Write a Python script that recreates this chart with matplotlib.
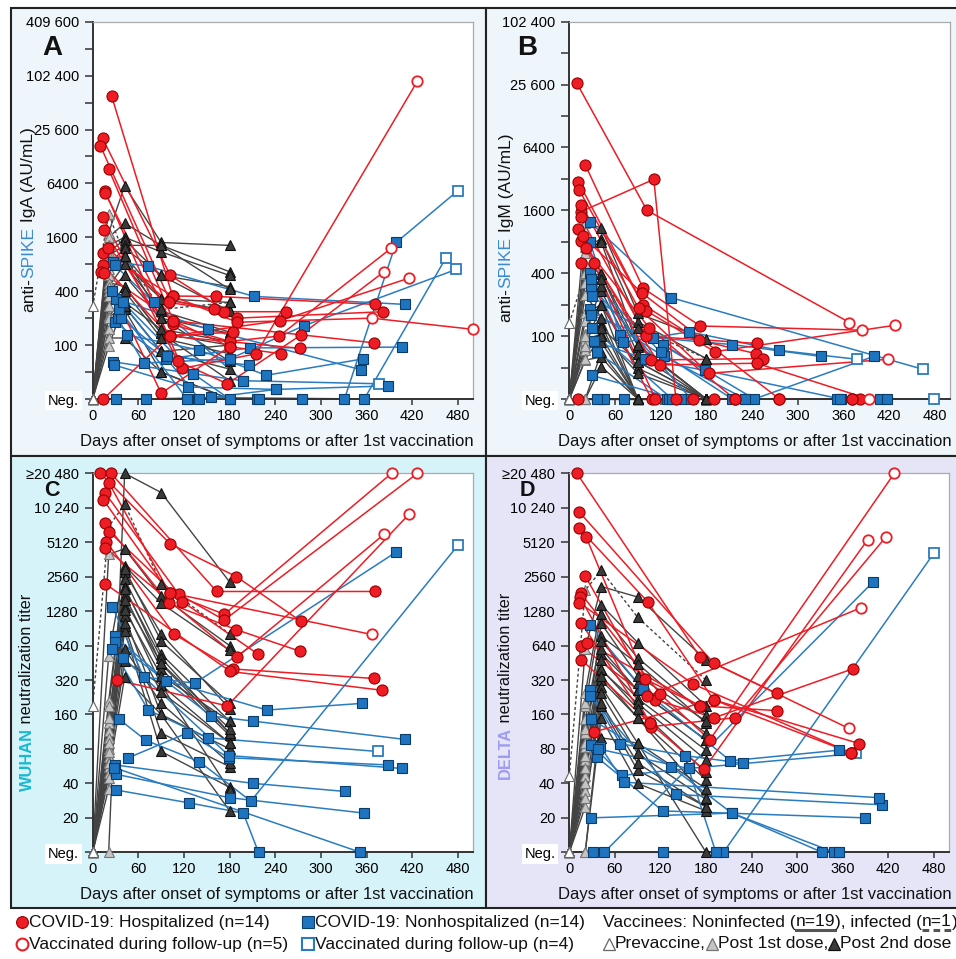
import matplotlib
matplotlib.use('Agg')
import matplotlib.pyplot as plt
from matplotlib.lines import Line2D
from matplotlib.patches import Rectangle

# ---------------- DATA ----------------
VAX_DAYS = [0, 21, 42, 90, 180]
X_TICKS = [0, 60, 120, 180, 240, 300, 360, 420, 480]

# value 0 means "Neg."
IGA_HOSP = [
    [(25, 60000), (105, 353), (162, 350), (371, 285)],
    [(13, 20400), (102, 600), (190, 200), (382, 236)],
    [(10, 16900), (101, 320), (172, 236), (254, 236)],
    [(21, 9250), (106, 187), (180, 96), (248, 80)],
    [(16, 5300), (118, 55), (215, 80), (427, 89000)],
    [(16, 5050), (105, 170), (180, 110), (245, 126), (392, 1200)],
    [(13, 2700), (112, 66), (177, 37), (274, 130), (383, 660)],
    [(15, 1930), (101, 126), (246, 187), (416, 560)],
    [(14, 1060), (105, 353), (190, 180), (367, 200), (500, 150)],
    [(13, 785), (101, 126), (273, 92)],
    [(11, 660), (106, 187), (370, 106)],
    [(15, 640), (90, 29), (180, 96)],
    [(14, 0), (101, 126), (185, 140)],
    [(20, 1200), (100, 300), (160, 250)],
]
IGA_HOSP_OPEN = [0, 0, 0, 0, 1, 1, 1, 1, 2, 0, 0, 0, 0, 0]
IGA_NONHOSP = [
    [(27, 855), (73, 760), (212, 350), (410, 285)],
    [(29, 180), (96, 70), (207, 93), (407, 95)],
    [(45, 130), (140, 88), (228, 46), (355, 70)],
    [(27, 65), (132, 48), (197, 40), (376, 37)],
    [(28, 60), (125, 34), (241, 32), (388, 35)],
    [(30, 0), (125, 0), (216, 0), (331, 0), (399, 1400), (480, 5300)],
    [(70, 0), (156, 26), (357, 0), (464, 930)],
    [(33, 200), (67, 63), (180, 70), (278, 165), (478, 700)],
    [(30, 330), (152, 150), (353, 53)],
    [(37, 200), (98, 75), (205, 60)],
    [(35, 250), (124, 0), (218, 0), (275, 0)],
    [(40, 300), (132, 48), (180, 0)],
    [(29, 780), (80, 300), (197, 40)],
    [(26, 400), (140, 0), (241, 32)],
]
IGA_NONHOSP_OPEN = [0, 0, 0, 1, 0, 1, 1, 1, 0, 0, 0, 0, 0, 0]
IGA_VAX = [
    [0, 1800, 6000, 1400, 1300],
    [0, 1600, 2300, 1300, 660],
    [0, 1300, 1600, 1100, 600],
    [0, 1100, 1500, 600, 450],
    [0, 1000, 1300, 1300, 420],
    [0, 900, 1000, 330, 300],
    [0, 800, 1200, 600, 240],
    [0, 700, 800, 240, 140],
    [0, 600, 1000, 200, 135],
    [0, 500, 450, 135, 100],
    [0, 450, 800, 330, 240],
    [0, 400, 600, 200, 66],
    [0, 350, 270, 85, 54],
    [0, 270, 450, 135, 40],
    [0, 210, 250, 50, 0],
    [0, 150, 270, 85, 100],
    [0, 120, 120, 50, 0],
    [0, 97, 300, 150, 110],
    [0, 200, 400, 120, 80],
    [270, 2900, 1000, 250, 300],
]
IGA_VAX_INFECTED = 19

IGM_HOSP = [
    [(10, 26300), (102, 1600), (368, 135)],
    [(15, 1550), (111, 3170), (140, 0), (382, 0)],
    [(21, 4350), (97, 287), (172, 125), (384, 114)],
    [(12, 3000), (97, 200), (171, 91), (245, 68)],
    [(13, 2500), (101, 175), (191, 71), (428, 127)],
    [(16, 1800), (91, 185), (183, 44), (418, 60)],
    [(15, 1370), (101, 100), (247, 85)],
    [(11, 1050), (107, 59), (255, 61)],
    [(15, 820), (119, 53), (246, 55), (393, 0)],
    [(16, 505), (108, 0), (163, 0), (371, 0)],
    [(32, 500), (113, 0), (190, 0)],
    [(12, 0), (217, 0), (276, 0)],
    [(22, 700), (105, 120), (217, 0)],
    [(18, 900), (95, 260), (276, 0), (371, 0)],
]
IGM_HOSP_OPEN = [1, 0, 1, 0, 1, 1, 0, 0, 1, 0, 0, 0, 0, 0]
IGM_NONHOSP = [
    [(27, 1240), (134, 233), (465, 48)],
    [(27, 800), (67, 103), (214, 83), (330, 64)],
    [(27, 400), (70, 87), (157, 110), (276, 73), (378, 60)],
    [(30, 240), (123, 82), (178, 47), (357, 0)],
    [(27, 180), (124, 64), (231, 0), (352, 0)],
    [(28, 160), (110, 95), (243, 0), (400, 64)],
    [(36, 70), (128, 0), (479, 0)],
    [(30, 42), (140, 0), (408, 0)],
    [(45, 0), (72, 0), (147, 0), (417, 0)],
    [(37, 0), (131, 0), (231, 0)],
    [(29, 300), (160, 0)],
    [(30, 120), (135, 0), (355, 0)],
    [(33, 90), (100, 60), (178, 47)],
    [(28, 350), (120, 70), (214, 0)],
]
IGM_NONHOSP_OPEN = [1, 0, 1, 0, 0, 0, 1, 0, 0, 0, 0, 0, 0, 0]
IGM_VAX = [
    [0, 1200, 1090, 165, 93],
    [0, 720, 850, 137, 61],
    [0, 620, 800, 79, 0],
    [0, 390, 390, 67, 0],
    [0, 320, 270, 57, 0],
    [0, 165, 200, 49, 0],
    [0, 105, 128, 0, 0],
    [0, 92, 105, 44, 0],
    [0, 73, 88, 0, 0],
    [0, 59, 63, 0, 0],
    [0, 0, 51, 0, 0],
    [0, 0, 0, 0, 0],
    [0, 100, 300, 82, 0],
    [0, 80, 200, 0, 0],
    [0, 500, 390, 82, 0],
    [0, 250, 150, 0, 0],
    [0, 60, 100, 0, 0],
    [0, 0, 70, 0, 0],
    [0, 140, 120, 57, 0],
    [133, 400, 350, 120, 61],
]
IGM_VAX_INFECTED = 19

WUHAN_HOSP = [
    [(10, 20480), (102, 4940), (189, 2560), (274, 1040)],
    [(24, 20480), (163, 1900), (371, 1900)],
    [(21, 17000), (101, 1850), (173, 1200), (393, 20480)],
    [(16, 13900), (113, 1800), (173, 1070), (427, 20480)],
    [(16, 7560), (100, 1500), (189, 880), (273, 570)],
    [(22, 6300), (118, 1550), (217, 540)],
    [(18, 5150), (107, 805), (184, 400), (370, 330)],
    [(16, 4580), (190, 510), (383, 6000)],
    [(16, 2230), (181, 380), (381, 260)],
    [(32, 320), (177, 190), (416, 9000)],
    [(14, 12000), (101, 1850), (367, 800)],
]
WUHAN_HOSP_OPEN = [0, 0, 1, 1, 0, 0, 0, 1, 0, 1, 1]
WUHAN_NONHOSP = [
    [(26, 1400), (67, 340), (134, 300), (399, 4200)],
    [(29, 770), (97, 315), (229, 175), (354, 200)],
    [(29, 690), (156, 155), (211, 140), (410, 97)],
    [(26, 600), (73, 175), (151, 100), (375, 76)],
    [(35, 145), (70, 95), (140, 62), (208, 28), (480, 4800)],
    [(47, 67), (124, 110), (179, 67), (388, 58)],
    [(29, 58), (211, 40), (332, 34)],
    [(31, 48), (180, 30), (357, 22)],
    [(31, 35), (127, 27), (198, 22), (218, 0)],
    [(28, 55), (352, 0)],
    [(40, 500), (179, 70), (407, 54)],
]
WUHAN_NONHOSP_OPEN = [0, 0, 0, 1, 1, 0, 0, 0, 0, 0, 0]
WUHAN_VAX = [
    [0, 0, 20480, 13900, 2300],
    [0, 4000, 4500, 1730, 640],
    [0, 520, 3200, 1500, 580],
    [0, 210, 2800, 810, 180],
    [0, 190, 2450, 540, 140],
    [0, 135, 2100, 440, 110],
    [0, 115, 1750, 400, 105],
    [0, 100, 1400, 290, 90],
    [0, 80, 1150, 160, 80],
    [0, 68, 950, 110, 56],
    [0, 62, 860, 76, 37],
    [0, 56, 470, 290, 35],
    [0, 49, 340, 160, 23],
    [0, 36, 2000, 500, 110],
    [0, 150, 1300, 350, 140],
    [0, 90, 1000, 250, 90],
    [0, 60, 600, 200, 60],
    [0, 45, 3000, 700, 200],
    [0, 75, 1600, 450, 120],
    [190, 7000, 11000, 2230, 810],
]
WUHAN_VAX_INFECTED = 19

DELTA_HOSP = [
    [(10, 20480), (172, 510), (273, 245)],
    [(13, 9430), (190, 450), (368, 121)],
    [(13, 6750), (103, 1550), (190, 215), (382, 89)],
    [(22, 5720), (100, 325), (172, 190), (273, 173)],
    [(21, 2590), (113, 215), (191, 150), (373, 400)],
    [(15, 1830), (120, 240), (185, 96), (428, 20480)],
    [(14, 1700), (106, 135), (177, 53), (393, 5400)],
    [(13, 1520), (163, 295), (371, 74)],
    [(16, 1000), (107, 125), (218, 150), (417, 5700)],
    [(15, 630), (102, 230), (384, 1370)],
    [(23, 680), (172, 190)],
    [(33, 113), (190, 215), (371, 74)],
    [(16, 480), (106, 135)],
]
DELTA_HOSP_OPEN = [0, 1, 0, 0, 0, 1, 1, 0, 1, 1, 0, 0, 0]
DELTA_NONHOSP = [
    [(27, 970), (97, 265), (212, 63), (355, 78)],
    [(27, 260), (67, 89), (152, 70), (229, 60)],
    [(27, 230), (141, 32), (412, 26)],
    [(29, 145), (134, 56), (214, 22), (333, 0)],
    [(29, 87), (70, 47), (157, 54), (378, 73)],
    [(36, 68), (123, 23), (389, 20)],
    [(41, 84), (72, 41), (408, 30)],
    [(29, 20), (214, 22), (349, 0)],
    [(31, 0), (123, 0), (203, 0), (480, 4100)],
    [(46, 0), (400, 2300)],
    [(38, 80), (157, 54), (193, 0), (355, 0)],
]
DELTA_NONHOSP_OPEN = [0, 0, 0, 0, 1, 0, 0, 0, 1, 0, 0]
DELTA_VAX = [
    [0, 600, 2100, 1700, 480],
    [0, 245, 1450, 680, 190],
    [0, 190, 1220, 500, 158],
    [0, 145, 770, 445, 135],
    [0, 110, 545, 260, 96],
    [0, 84, 480, 220, 78],
    [0, 64, 390, 200, 64],
    [0, 46, 320, 150, 43],
    [0, 34, 280, 90, 36],
    [0, 25, 245, 73, 29],
    [0, 0, 190, 52, 25],
    [0, 0, 150, 40, 23],
    [0, 200, 100, 90, 0],
    [0, 120, 600, 260, 96],
    [0, 70, 400, 180, 50],
    [0, 55, 350, 150, 30],
    [0, 40, 700, 300, 110],
    [0, 90, 1000, 350, 140],
    [0, 30, 200, 60, 25],
    [46, 1950, 2900, 1130, 320],
]
DELTA_VAX_INFECTED = 19

AB_MAJOR = [25, 100, 400, 1600, 6400, 25600, 102400, 409600]
AB_LABELS = ['Neg.', '100', '400', '1600', '6400', '25 600', '102 400', '409 600']
AB_MINOR = [50, 200, 800, 3200, 12800, 51200, 204800]
CD_MAJOR = [10, 20, 40, 80, 160, 320, 640, 1280, 2560, 5120, 10240, 20480]
CD_LABELS = ['Neg.', '20', '40', '80', '160', '320', '640', '1280', '2560', '5120',
             '10 240', '\u226520 480']

# ---------------- STYLE ----------------
W, H = 956, 959
RED = '#ee1c24'
RED_EDGE = '#9a0000'
BLUE = '#1f74bf'
BLUE_EDGE = '#0c3c6a'
BLUE_LINE = '#2a7cc0'
GREY_LINE = '#444444'
SPIKE_BLUE = '#3b8bd0'
CYAN = '#1ab8d2'
LAV = '#9d9cf2'

plt.rcParams['font.family'] = ['Liberation Sans', 'DejaVu Sans']
fig = plt.figure(figsize=(W / 100, H / 100), dpi=100)
fig.patch.set_facecolor('white')


def rect_px(x0, y0, x1, y1, fc, ec='#222222', lw=1.5):
    r = Rectangle((x0 / W, 1 - y1 / H), (x1 - x0) / W, (y1 - y0) / H,
                  transform=fig.transFigure, facecolor=fc, edgecolor=ec,
                  linewidth=lw, zorder=0)
    fig.add_artist(r)


rect_px(11, 8, 486, 456, '#eef6fb')
rect_px(486, 8, 958, 456, '#eef6fb')
rect_px(11, 456, 486, 908, '#d6f3fa')
rect_px(486, 456, 958, 908, '#e6e5f8')


def add_ax(x0, y0, x1, y1):
    return fig.add_axes([x0 / W, 1 - y1 / H, (x1 - x0) / W, (y1 - y0) / H])


def setup(ax, ylim, major, labels, minor):
    ax.set_facecolor('white')
    ax.set_yscale('log', base=2)
    ax.set_ylim(*ylim)
    ax.set_xlim(0, 500)
    ax.set_yticks(major, labels=labels)
    ax.set_yticks(minor, minor=True)
    ax.set_yticklabels([], minor=True)
    ax.set_xticks(X_TICKS, labels=[str(t) for t in X_TICKS])
    ax.tick_params(axis='y', which='both', direction='out', length=6, width=1.1,
                   color='#333333', labelsize=10.5, pad=4)
    ax.tick_params(axis='x', direction='out', length=4, width=1.1,
                   color='#333333', labelsize=10.5, pad=3)
    for s in ('left', 'bottom'):
        ax.spines[s].set_color('#333333')
        ax.spines[s].set_linewidth(1.4)
    for s in ('top', 'right'):
        ax.spines[s].set_color('#aaaaaa')
        ax.spines[s].set_linewidth(0.9)
    for lbl in ax.get_yticklabels():
        if lbl.get_text() == 'Neg.':
            lbl.set_bbox(dict(facecolor='white', edgecolor='none', pad=2))


def draw_group(ax, subjects, opens, neg, color, edge, lcolor, marker, ms, zl, zm):
    for subj in subjects:
        xs = [d for d, v in subj]
        ys = [neg if v == 0 else v for d, v in subj]
        ax.plot(xs, ys, color=lcolor, lw=1.1, zorder=zl, clip_on=False)
    for subj, no in zip(subjects, opens):
        xs = [d for d, v in subj]
        ys = [neg if v == 0 else v for d, v in subj]
        n = len(xs) - no
        ax.plot(xs[:n], ys[:n], ls='none', marker=marker, ms=ms, mfc=color,
                mec=edge, mew=0.8, zorder=zm, clip_on=False)
        if no:
            ax.plot(xs[n:], ys[n:], ls='none', marker=marker, ms=ms - 0.5,
                    mfc='white', mec=lcolor, mew=1.3, zorder=zm, clip_on=False)


def draw_vax(ax, rows, infected, neg):
    for i, row in enumerate(rows):
        ys = [neg if v == 0 else v for v in row]
        ls = (0, (2.2, 1.8)) if i == infected else '-'
        ax.plot(VAX_DAYS, ys, color=GREY_LINE, lw=1.0, ls=ls, zorder=2.0, clip_on=False)
    for row in rows:
        ys = [neg if v == 0 else v for v in row]
        ax.plot(VAX_DAYS[:1], ys[:1], ls='none', marker='^', ms=7.5, mfc='white',
                mec='#666666', mew=0.8, zorder=3.0, clip_on=False)
        ax.plot(VAX_DAYS[1:2], ys[1:2], ls='none', marker='^', ms=7.5, mfc='#c4c4c4',
                mec='#777777', mew=0.8, zorder=3.0, clip_on=False)
        ax.plot(VAX_DAYS[2:], ys[2:], ls='none', marker='^', ms=7.5, mfc='#3a3a3a',
                mec='#111111', mew=0.8, zorder=3.0, clip_on=False)


def panel(pos, ylim, major, labels, minor, hosp, hopen, nonh, nopen, vax, vinf):
    ax = add_ax(*pos)
    setup(ax, ylim, major, labels, minor)
    neg = ylim[0]
    draw_vax(ax, vax, vinf, neg)
    draw_group(ax, nonh, nopen, neg, BLUE, BLUE_EDGE, BLUE_LINE, 's', 7.0, 2.1, 3.1)
    draw_group(ax, hosp, hopen, neg, RED, RED_EDGE, RED, 'o', 8.0, 2.2, 3.2)
    return ax


axA = panel((92.7, 21.7, 473, 399), (25, 409600), AB_MAJOR, AB_LABELS, AB_MINOR,
            IGA_HOSP, IGA_HOSP_OPEN, IGA_NONHOSP, IGA_NONHOSP_OPEN, IGA_VAX, IGA_VAX_INFECTED)
axB = panel((569.3, 21.7, 950, 399), (25, 102400), AB_MAJOR[:-1], AB_LABELS[:-1], AB_MINOR[:-1],
            IGM_HOSP, IGM_HOSP_OPEN, IGM_NONHOSP, IGM_NONHOSP_OPEN, IGM_VAX, IGM_VAX_INFECTED)
axC = panel((92.7, 473.3, 473, 852.3), (10, 20480), CD_MAJOR, CD_LABELS, [],
            WUHAN_HOSP, WUHAN_HOSP_OPEN, WUHAN_NONHOSP, WUHAN_NONHOSP_OPEN, WUHAN_VAX, WUHAN_VAX_INFECTED)
axD = panel((569.3, 473.3, 949, 852.3), (10, 20480), CD_MAJOR, CD_LABELS, [],
            DELTA_HOSP, DELTA_HOSP_OPEN, DELTA_NONHOSP, DELTA_NONHOSP_OPEN, DELTA_VAX, DELTA_VAX_INFECTED)

# x labels
XLAB = 'Days after onset of symptoms or after 1st vaccination'
for (x, y) in [(474, 441.7), (952, 441.7), (474, 894), (952, 894)]:
    fig.text(x / W, 1 - y / H, XLAB, ha='right', va='center', fontsize=12, color='#111111')

# panel letters
for (x, y, s, fs) in [(52, 48, 'A', 20), (527, 48, 'B', 20), (52, 490.8, 'C', 15.5), (527, 490.8, 'D', 15.5)]:
    fig.text(x / W, 1 - y / H, s, ha='center', va='center', fontsize=fs,
             fontweight='bold', color='#111111')

renderer = fig.canvas.get_renderer()


def vtext(x, yc, parts, size):
    objs, hs = [], []
    for s, c, w in parts:
        t = fig.text(x / W, 0.5, s, rotation=90, fontsize=size, color=c,
                     fontweight=w, ha='center', va='bottom', rotation_mode='default')
        e = t.get_window_extent(renderer)
        hs.append(e.height)
        objs.append(t)
    total = sum(hs)
    ypix = (H - yc) - total / 2
    for t, h in zip(objs, hs):
        t.set_position((x / W, ypix / H))
        ypix += h


vtext(29, 220, [('anti-', '#111111', 'normal'), ('SPIKE', SPIKE_BLUE, 'normal'),
                (' IgA (AU/mL)', '#111111', 'normal')], 12.5)
vtext(506, 228, [('anti-', '#111111', 'normal'), ('SPIKE', SPIKE_BLUE, 'normal'),
                 (' IgM (AU/mL)', '#111111', 'normal')], 12.5)
vtext(27, 692, [('WUHAN', CYAN, 'bold'), (' neutralization titer', '#111111', 'normal')], 11.8)
vtext(505, 686, [('DELTA', LAV, 'bold'), (' neutralization titer', '#111111', 'normal')], 11.8)

# ---------------- LEGEND ----------------
LEG_FONT = ['Liberation Sans Narrow', 'Liberation Sans', 'DejaVu Sans']
LEG_FS = 12.5
R1, R2 = 922, 944


def mk(x, y, **kw):
    fig.add_artist(Line2D([x / W], [1 - y / H], transform=fig.transFigure, ls='none', **kw))


def htext(x, y, s, **kw):
    t = fig.text(x / W, 1 - y / H, s, ha='left', va='center', fontsize=LEG_FS,
                 family=LEG_FONT, color='#111111', **kw)
    e = t.get_window_extent(renderer)
    return t, e


mk(22, R1, marker='o', ms=8.5, mfc=RED, mec=RED_EDGE, mew=0.8)
htext(29, R1, 'COVID-19: Hospitalized (n=14)')
mk(22, R2, marker='o', ms=8.5, mfc='white', mec=RED, mew=1.5)
htext(29, R2, 'Vaccinated during follow-up (n=5)')
mk(308, R1, marker='s', ms=8, mfc=BLUE, mec=BLUE_EDGE, mew=0.8)
htext(315, R1, 'COVID-19: Nonhospitalized (n=14)')
mk(308, R2, marker='s', ms=8, mfc='white', mec=BLUE_LINE, mew=1.5)
htext(315, R2, 'Vaccinated during follow-up (n=4)')

# Vaccinee line with underlines
x = 603
pieces = ['Vaccinees: Noninfected (', 'n=19', '), infected (', 'n=1', ')']
exts = []
for p in pieces:
    t, e = htext(x, R1, p)
    exts.append(e)
    x += e.width
for idx, style in [(1, '-'), (3, (0, (2.2, 1.4)))]:
    e = exts[idx]
    yy = (H - R1 - 8) / H
    fig.add_artist(Line2D([e.x0 / W, e.x1 / W], [yy, yy], transform=fig.transFigure,
                          color='#555555', lw=2.2, ls=style))

# triangles legend
x = 604
for fc, ec, lab in [('white', '#666666', 'Prevaccine,'), ('#c4c4c4', '#777777', 'Post 1st dose,'),
                    ('#3a3a3a', '#111111', 'Post 2nd dose')]:
    mk(x + 5, R2, marker='^', ms=8, mfc=fc, mec=ec, mew=0.9)
    t, e = htext(x + 11, R2, lab)
    x = x + 11 + e.width + 1

fig.savefig('out.png', dpi=100, facecolor='white')
